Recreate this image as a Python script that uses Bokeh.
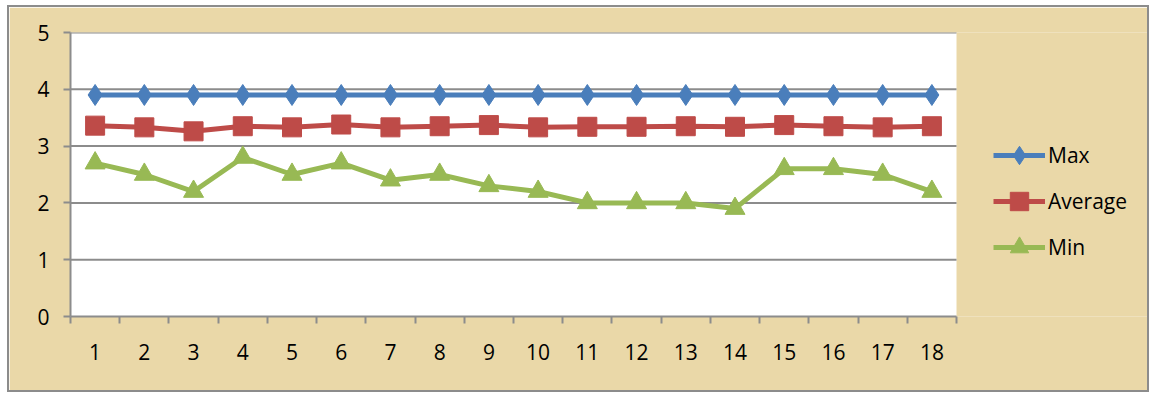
from bokeh.plotting import figure
from bokeh.models import FixedTicker, Legend, LegendItem, Range1d, BoxAnnotation
from bokeh.embed import file_html
from bokeh.resources import INLINE

categories = list(range(1, 19))
max_vals = [3.9] * 18
avg_vals = [3.36, 3.33, 3.26, 3.35, 3.33, 3.38, 3.33, 3.35, 3.37, 3.33,
            3.34, 3.34, 3.35, 3.34, 3.37, 3.35, 3.33, 3.35]
min_vals = [2.7, 2.5, 2.2, 2.8, 2.5, 2.7, 2.4, 2.5, 2.3, 2.2,
            2.0, 2.0, 2.0, 1.9, 2.6, 2.6, 2.5, 2.2]
y_ticks = [0, 1, 2, 3, 4, 5]

FONT = "Open Sans"
FSIZE = "21px"
TAN = "#EAD8A8"
GRAY = "#8C8C8C"

W, H = 1142, 387
LEFT, TOP, BOTTOM = 61, 25, 78
PLOT_W = 886                      # pixel width of the category area
frame_w = W - LEFT
x0, x1 = 0.5, len(categories) + 0.5
x_end = x0 + (x1 - x0) * frame_w / PLOT_W

p = figure(width=W, height=H, output_backend="svg", toolbar_location=None,
           x_range=Range1d(x0, x_end), y_range=Range1d(0, 5),
           min_border_left=LEFT, min_border_right=0, min_border_top=TOP, min_border_bottom=BOTTOM)
p.margin = (5, 0, 0, 7)
p.styles = {"border": "2px solid #8C8C8C"}
p.background_fill_color = TAN
p.border_fill_color = TAN
p.outline_line_color = None

p.add_layout(BoxAnnotation(left=x0, right=x1, bottom=0, top=5, fill_color="white",
                           fill_alpha=1, line_color=None, level="underlay"))

# y axis
p.yaxis.ticker = FixedTicker(ticks=y_ticks)
p.yaxis.axis_line_color = GRAY
p.yaxis.axis_line_width = 2
p.yaxis.major_tick_line_color = GRAY
p.yaxis.major_tick_line_width = 2
p.yaxis.major_tick_out = 7
p.yaxis.major_tick_in = 0
p.yaxis.minor_tick_line_color = None
p.yaxis.major_label_standoff = 14
p.yaxis.major_label_text_font = FONT
p.yaxis.major_label_text_font_size = FSIZE
p.yaxis.major_label_text_color = "black"

# x axis
p.xaxis.ticker = FixedTicker(ticks=categories, minor_ticks=[c - 0.5 for c in categories] + [x1])
p.xaxis.bounds = (x0, x1)
p.xaxis.axis_line_color = GRAY
p.xaxis.axis_line_width = 2
p.xaxis.major_tick_line_color = None
p.xaxis.major_tick_out = 7
p.xaxis.minor_tick_line_color = GRAY
p.xaxis.minor_tick_line_width = 2
p.xaxis.minor_tick_out = 7
p.xaxis.minor_tick_in = 0
p.xaxis.major_label_standoff = 20
p.xaxis.major_label_text_font = FONT
p.xaxis.major_label_text_font_size = FSIZE
p.xaxis.major_label_text_color = "black"

p.xgrid.visible = False
p.ygrid.visible = False
# horizontal gridlines limited to the category area
grid_y = y_ticks[1:]
p.segment(x0=[x0] * len(grid_y), x1=[x1] * len(grid_y), y0=grid_y, y1=grid_y,
          line_color=GRAY, line_width=2)

series = [
    ("Max", max_vals, "#4A7EBB", "diamond", 21),
    ("Average", avg_vals, "#BE4B48", "square", 19),
    ("Min", min_vals, "#98B954", "triangle", 20),
]
items = []
for name, vals, color, marker, size in series:
    l = p.line(categories, vals, line_color=color, line_width=5)
    s = p.scatter(categories, vals, marker=marker, size=size, fill_color=color, line_color=color)
    items.append(LegendItem(label=name, renderers=[l, s]))

legend = Legend(items=items, location=(923, 46), padding=0, margin=0,
                border_line_color=None, background_fill_alpha=0,
                glyph_width=52, glyph_height=46, label_height=46, spacing=0,
                label_standoff=3, label_text_font=FONT, label_text_font_size=FSIZE,
                label_text_color="black")
p.add_layout(legend, "center")

open("out.html", "w").write(file_html(p, INLINE))
